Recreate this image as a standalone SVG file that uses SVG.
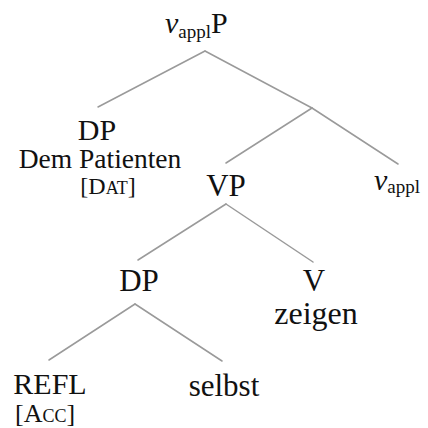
<svg xmlns="http://www.w3.org/2000/svg" width="428" height="428" viewBox="0 0 428 428">
<style>
.t{font-family:"Liberation Serif","Times New Roman",serif;fill:#111;text-anchor:middle}
.s{font-family:"Liberation Serif","Times New Roman",serif;fill:#111}
.e{stroke:#9a9a9a;stroke-width:1.5;fill:none;stroke-linecap:round}
</style>
<rect width="428" height="428" fill="#fff"/>
<g id="edges">
<line class="e" x1="205" y1="51" x2="98" y2="107"/>
<line class="e" x1="205" y1="51" x2="312" y2="108"/>
<line class="e" x1="312" y1="108" x2="226" y2="163"/>
<line class="e" x1="312" y1="108" x2="398" y2="164"/>
<line class="e" x1="226" y1="204" x2="138" y2="260"/>
<line class="e" x1="226" y1="204" x2="313" y2="262"/>
<line class="e" x1="135" y1="304" x2="49" y2="360"/>
<line class="e" x1="135" y1="304" x2="222" y2="361"/>
</g>
<g id="root">
<text class="s" x="165" y="33" font-size="30"><tspan font-style="italic">v</tspan><tspan font-size="19" dy="5">appl</tspan><tspan dy="-5">P</tspan></text>
</g>
<g id="dp1">
<text class="t" x="97" y="140" font-size="30">DP</text>
<text class="t" x="100" y="168" font-size="27.5">Dem Patienten</text>
<text class="t" x="108" y="194" font-size="24">[D<tspan font-size="18">AT</tspan>]</text>
</g>
<g id="vp">
<text class="t" x="226" y="196" font-size="31">VP</text>
</g>
<g id="vappl">
<text class="s" x="374" y="190" font-size="30"><tspan font-style="italic">v</tspan><tspan font-size="19" dy="3">appl</tspan></text>
</g>
<g id="dp2">
<text class="t" x="139" y="291" font-size="31">DP</text>
</g>
<g id="v">
<text class="t" x="314" y="291" font-size="31">V</text>
<text class="t" x="316" y="324" font-size="32">zeigen</text>
</g>
<g id="refl">
<text class="t" x="50" y="394" font-size="30">REFL</text>
<text class="s" x="15" y="422" font-size="26">[A<tspan font-variant="small-caps">cc</tspan>]</text>
</g>
<g id="selbst">
<text class="t" x="224" y="396" font-size="31">selbst</text>
</g>
</svg>
